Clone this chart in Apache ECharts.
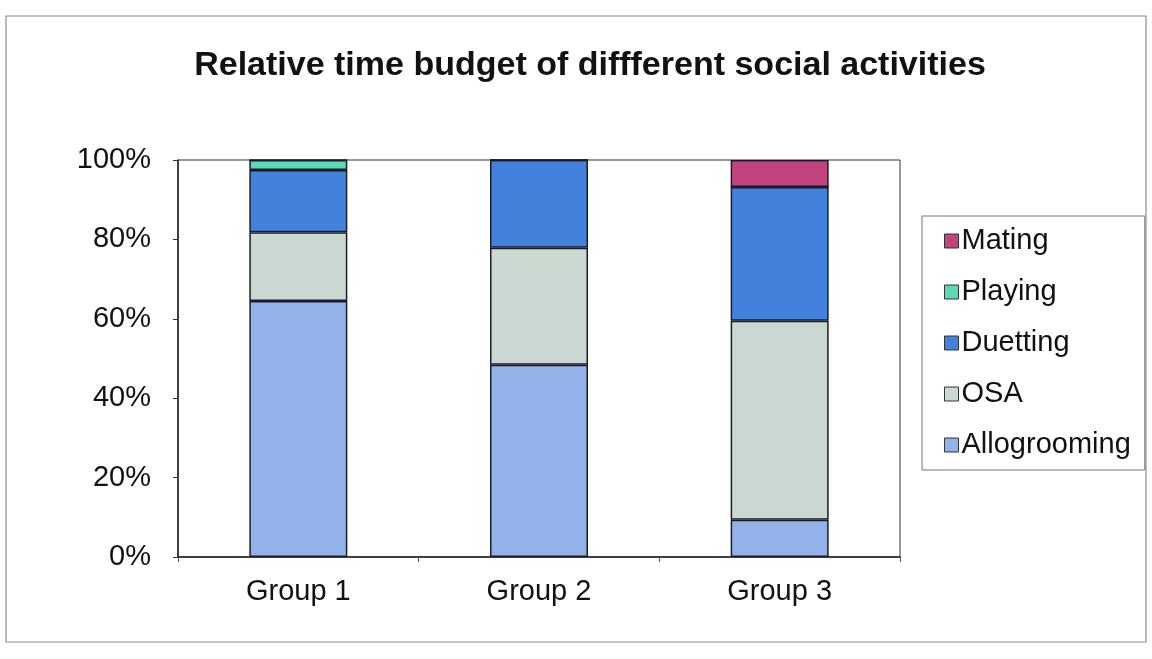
<!DOCTYPE html>
<html>
<head>
<meta charset="utf-8">
<script src="https://cdn.jsdelivr.net/npm/echarts@6/dist/echarts.min.js"></script>
<style>
  html, body { margin: 0; padding: 0; background: #ffffff; }
  #chart { width: 1152px; height: 659px; }
</style>
</head>
<body>
<div id="chart"></div>
<script>
// Share of social time per activity, per group (each group sums to 100%)
const groups = ['Group 1', 'Group 2', 'Group 3'];
const allogrooming = [64.5, 48.4, 9.4];
const osa          = [17.3, 29.5, 50.1];
const duetting     = [15.7, 22.1, 33.7];
const playing      = [2.5, 0, 0];
const mating       = [0, 0, 6.8];
const legendOrder  = ['Mating', 'Playing', 'Duetting', 'OSA', 'Allogrooming'];

const FONT = '"Liberation Sans", Arial, sans-serif';

function stackSeries(name, data, color) {
  return {
    name: name,
    type: 'bar',
    stack: 'total',
    barWidth: 98,
    data: data,
    itemStyle: { color: color, borderColor: '#1c1c28', borderWidth: 1.5 }
  };
}

const chart = echarts.init(document.getElementById('chart'));
chart.setOption({
  backgroundColor: '#ffffff',
  animation: false,
  graphic: [{
    type: 'rect',
    shape: { x: 6, y: 16, width: 1140, height: 626 },
    style: { fill: 'none', stroke: '#8a8a8a', lineWidth: 1.2 },
    z: -1
  }],
  title: {
    text: 'Relative time budget of diffferent social activities',
    left: 585,
    top: 44,
    textAlign: 'center',
    textStyle: { fontFamily: FONT, fontSize: 34, fontWeight: 'bold', color: '#111' }
  },
  legend: {
    orient: 'vertical',
    left: 922,
    top: 216,
    data: legendOrder,
    icon: 'rect',
    itemWidth: 14,
    itemHeight: 14,
    itemGap: 17,
    padding: [8, 14, 8, 22],
    borderColor: '#777',
    borderWidth: 1,
    selectedMode: false,
    itemStyle: { borderColor: '#333', borderWidth: 1 },
    textStyle: { fontFamily: FONT, fontSize: 29, color: '#111', lineHeight: 34, padding: [0, 0, 0, -2] }
  },
  grid: {
    left: 178,
    right: 252,
    top: 160,
    bottom: 102,
    show: true,
    borderColor: '#333',
    borderWidth: 1,
    backgroundColor: '#ffffff'
  },
  xAxis: {
    type: 'category',
    data: groups,
    axisLine: { lineStyle: { color: '#222', width: 1.5 } },
    axisTick: { show: true, length: 5, lineStyle: { color: '#555' } },
    axisLabel: { fontFamily: FONT, fontSize: 29, color: '#111', margin: 20 }
  },
  yAxis: {
    type: 'value',
    min: 0,
    max: 100,
    interval: 20,
    axisLine: { show: true, lineStyle: { color: '#222', width: 1.5 } },
    axisTick: { show: true, length: 5, lineStyle: { color: '#333' } },
    splitLine: { show: false },
    axisLabel: { fontFamily: FONT, fontSize: 29, color: '#111', margin: 27, formatter: '{value}%' }
  },
  series: [
    stackSeries('Allogrooming', allogrooming, '#93b2ea'),
    stackSeries('OSA', osa, '#c9d9d2'),
    stackSeries('Duetting', duetting, '#4282dc'),
    stackSeries('Playing', playing, '#5cd8b4'),
    stackSeries('Mating', mating, '#c2447f')
  ]
});
</script>
</body>
</html>
